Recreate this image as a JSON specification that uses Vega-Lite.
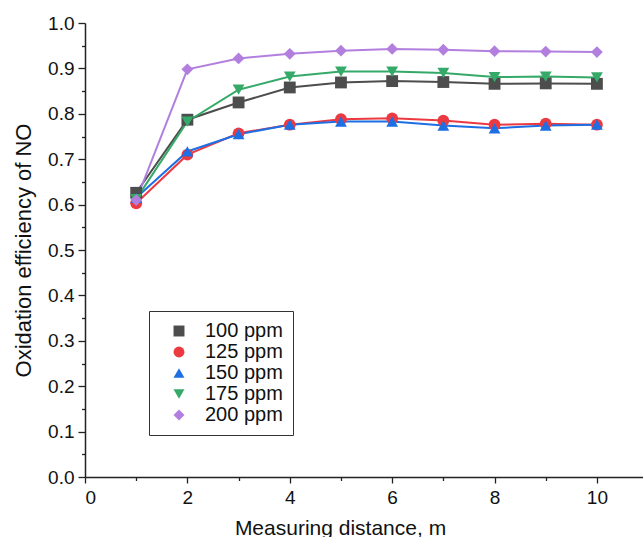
{
  "$schema": "https://vega.github.io/schema/vega-lite/v6.json",
  "width": 558,
  "height": 454,
  "autosize": {"type": "none"},
  "padding": {"left": 85, "top": 23, "right": 0, "bottom": 60},
  "background": "white",
  "config": {
    "view": {"stroke": null},
    "font": "Liberation Sans",
    "axis": {"grid": false, "domainColor": "#222", "tickColor": "#222", "labelColor": "#111", "titleColor": "#111", "labelFontSize": 19, "titleFontWeight": "normal", "domainWidth": 1.5, "tickWidth": 1.3}
  },
  "data": {"values": [
    {"d": 1, "s": "100 ppm", "v": 0.626}, {"d": 2, "s": "100 ppm", "v": 0.787}, {"d": 3, "s": "100 ppm", "v": 0.825}, {"d": 4, "s": "100 ppm", "v": 0.858}, {"d": 5, "s": "100 ppm", "v": 0.869}, {"d": 6, "s": "100 ppm", "v": 0.872}, {"d": 7, "s": "100 ppm", "v": 0.870}, {"d": 8, "s": "100 ppm", "v": 0.866}, {"d": 9, "s": "100 ppm", "v": 0.867}, {"d": 10, "s": "100 ppm", "v": 0.866},
    {"d": 1, "s": "125 ppm", "v": 0.603}, {"d": 2, "s": "125 ppm", "v": 0.710}, {"d": 3, "s": "125 ppm", "v": 0.757}, {"d": 4, "s": "125 ppm", "v": 0.776}, {"d": 5, "s": "125 ppm", "v": 0.788}, {"d": 6, "s": "125 ppm", "v": 0.790}, {"d": 7, "s": "125 ppm", "v": 0.785}, {"d": 8, "s": "125 ppm", "v": 0.776}, {"d": 9, "s": "125 ppm", "v": 0.778}, {"d": 10, "s": "125 ppm", "v": 0.776},
    {"d": 1, "s": "150 ppm", "v": 0.615}, {"d": 2, "s": "150 ppm", "v": 0.717}, {"d": 3, "s": "150 ppm", "v": 0.755}, {"d": 4, "s": "150 ppm", "v": 0.776}, {"d": 5, "s": "150 ppm", "v": 0.783}, {"d": 6, "s": "150 ppm", "v": 0.783}, {"d": 7, "s": "150 ppm", "v": 0.774}, {"d": 8, "s": "150 ppm", "v": 0.768}, {"d": 9, "s": "150 ppm", "v": 0.774}, {"d": 10, "s": "150 ppm", "v": 0.776},
    {"d": 1, "s": "175 ppm", "v": 0.612}, {"d": 2, "s": "175 ppm", "v": 0.783}, {"d": 3, "s": "175 ppm", "v": 0.853}, {"d": 4, "s": "175 ppm", "v": 0.882}, {"d": 5, "s": "175 ppm", "v": 0.893}, {"d": 6, "s": "175 ppm", "v": 0.893}, {"d": 7, "s": "175 ppm", "v": 0.890}, {"d": 8, "s": "175 ppm", "v": 0.881}, {"d": 9, "s": "175 ppm", "v": 0.882}, {"d": 10, "s": "175 ppm", "v": 0.880},
    {"d": 1, "s": "200 ppm", "v": 0.610}, {"d": 2, "s": "200 ppm", "v": 0.898}, {"d": 3, "s": "200 ppm", "v": 0.922}, {"d": 4, "s": "200 ppm", "v": 0.932}, {"d": 5, "s": "200 ppm", "v": 0.939}, {"d": 6, "s": "200 ppm", "v": 0.943}, {"d": 7, "s": "200 ppm", "v": 0.941}, {"d": 8, "s": "200 ppm", "v": 0.938}, {"d": 9, "s": "200 ppm", "v": 0.937}, {"d": 10, "s": "200 ppm", "v": 0.936}
  ]},
  "layer": [
    {
      "mark": {"type": "line", "strokeWidth": 2},
      "encoding": {
        "x": {"field": "d", "type": "quantitative", "scale": {"domain": [0, 10.9], "nice": false}, "axis": {"orient": "bottom", "values": [0, 2, 4, 6, 8, 10], "title": "Measuring distance, m", "titleFontSize": 21, "tickSize": 6, "labelPadding": 5, "titleX": 255, "titleY": 57, "titleBaseline": "alphabetic", "titleAnchor": null, "titleAlign": "center"}},
        "y": {"field": "v", "type": "quantitative", "scale": {"domain": [0, 1], "nice": false}, "axis": {"orient": "left", "values": [0, 0.1, 0.2, 0.3, 0.4, 0.5, 0.6, 0.7, 0.8, 0.9, 1.0], "format": ".1f", "title": "Oxidation efficiency of NO", "titleFontSize": 22, "tickSize": 7, "labelPadding": 4, "titleX": -55, "titleY": 227, "titleAngle": -90, "titleAlign": "center", "titleBaseline": "alphabetic", "titleAnchor": null}},
        "color": {"field": "s", "type": "nominal", "scale": {"domain": ["100 ppm", "125 ppm", "150 ppm", "175 ppm", "200 ppm"], "range": ["#4d4d4d", "#ec3a42", "#1d6fe3", "#35aa68", "#b27fdf"]}, "legend": {"title": null, "orient": "none", "legendX": 64, "legendY": 288, "labelFontSize": 20, "labelColor": "#111", "strokeColor": "#333", "padding": 10, "rowPadding": 1, "symbolSize": 120, "symbolStrokeWidth": 0, "symbolOffset": 10, "labelOffset": 16, "fillColor": "white"}},
        "detail": {"field": "s"}
      }
    },
    {
      "mark": {"type": "point", "filled": true, "opacity": 1, "size": 140},
      "encoding": {
        "x": {"field": "d", "type": "quantitative", "axis": null},
        "y": {"field": "v", "type": "quantitative", "axis": null},
        "color": {"field": "s", "type": "nominal", "legend": {"title": null, "orient": "none", "legendX": 64, "legendY": 288, "labelFontSize": 20, "labelColor": "#111", "strokeColor": "#333", "padding": 10, "rowPadding": 1, "symbolSize": 120, "symbolStrokeWidth": 0, "symbolOffset": 10, "labelOffset": 16, "fillColor": "white"}},
        "shape": {"field": "s", "type": "nominal", "scale": {"domain": ["100 ppm", "125 ppm", "150 ppm", "175 ppm", "200 ppm"], "range": ["square", "circle", "triangle-up", "triangle-down", "diamond"]}, "legend": {"title": null, "orient": "none", "legendX": 64, "legendY": 288, "labelFontSize": 20, "labelColor": "#111", "strokeColor": "#333", "padding": 10, "rowPadding": 1, "symbolSize": 120, "symbolStrokeWidth": 0, "symbolOffset": 10, "labelOffset": 16, "fillColor": "white"}}
      }
    },
    {
      "mark": {"type": "point", "opacity": 0},
      "encoding": {
        "x": {"field": "d", "type": "quantitative", "axis": {"orient": "bottom", "values": [1, 3, 5, 7, 9], "labels": false, "domain": false, "tickSize": 3.5, "title": null}},
        "y": {"field": "v", "type": "quantitative", "axis": {"orient": "left", "values": [0.05, 0.15, 0.25, 0.35, 0.45, 0.55, 0.65, 0.75, 0.85, 0.95], "labels": false, "domain": false, "tickSize": 3.5, "title": null}}
      }
    }
  ],
  "resolve": {"axis": {"x": "independent", "y": "independent"}}
}
